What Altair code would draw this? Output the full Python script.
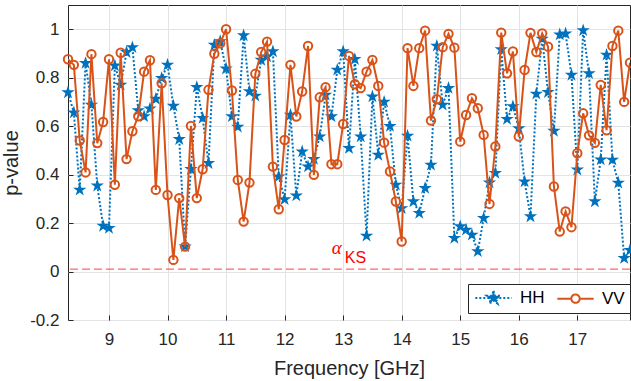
import altair as alt
import pandas as pd
import math

# ---------------- data ----------------
freq = [8.3, 8.4, 8.5, 8.6, 8.7, 8.8, 8.9, 9.0, 9.1, 9.2,
        9.3, 9.4, 9.5, 9.6, 9.7, 9.8, 9.9, 10.0, 10.1, 10.2,
        10.3, 10.4, 10.5, 10.6, 10.7, 10.8, 10.9, 11.0, 11.1, 11.2,
        11.3, 11.4, 11.5, 11.6, 11.7, 11.8, 11.9, 12.0, 12.1, 12.2,
        12.3, 12.4, 12.5, 12.6, 12.7, 12.8, 12.9, 13.0, 13.1, 13.2,
        13.3, 13.4, 13.5, 13.6, 13.7, 13.8, 13.9, 14.0, 14.1, 14.2,
        14.3, 14.4, 14.5, 14.6, 14.7, 14.8, 14.9, 15.0, 15.1, 15.2,
        15.3, 15.4, 15.5, 15.6, 15.7, 15.8, 15.9, 16.0, 16.1, 16.2,
        16.3, 16.4, 16.5, 16.6, 16.7, 16.8, 16.9, 17.0, 17.1, 17.2,
        17.3, 17.4, 17.5, 17.6, 17.7, 17.8, 17.9]

hh = [0.739, 0.656, 0.337, 0.860, 0.688, 0.354, 0.188, 0.179, 0.850, 0.770,
      0.905, 0.925, 0.665, 0.640, 0.672, 0.712, 0.798, 0.853, 0.684, 0.546,
      0.103, 0.422, 0.761, 0.633, 0.447, 0.935, 0.950, 0.837, 0.640, 0.597,
      0.974, 0.743, 0.725, 0.873, 0.887, 0.908, 0.392, 0.298, 0.646, 0.313,
      0.495, 0.433, 0.464, 0.557, 0.729, 0.640, 0.832, 0.908, 0.509, 0.876,
      0.557, 0.147, 0.722, 0.481, 0.700, 0.600, 0.358, 0.261, 0.560, 0.289,
      0.241, 0.344, 0.440, 0.931, 0.688, 0.757, 0.138, 0.186, 0.172, 0.151,
      0.083, 0.220, 0.367, 0.406, 0.917, 0.629, 0.681, 0.591, 0.371, 0.227,
      0.733, 0.960, 0.740, 0.580, 0.978, 0.982, 0.811, 0.420, 0.995, 0.818,
      0.289, 0.462, 0.894, 0.461, 0.366, 0.055, 0.088]

vv = [0.876, 0.853, 0.541, 0.409, 0.897, 0.530, 0.617, 0.876, 0.358, 0.903,
      0.464, 0.579, 0.641, 0.825, 0.872, 0.337, 0.777, 0.316, 0.048, 0.303,
      0.103, 0.601, 0.303, 0.422, 0.750, 0.899, 0.942, 1.000, 0.747, 0.378,
      0.206, 0.367, 0.816, 0.906, 0.949, 0.433, 0.257, 0.543, 0.853, 0.640,
      0.743, 0.931, 0.399, 0.719, 0.761, 0.443, 0.443, 0.609, 0.890, 0.773,
      0.757, 0.825, 0.873, 0.766, 0.532, 0.413, 0.289, 0.124, 0.922, 0.766,
      0.922, 0.994, 0.623, 0.711, 0.926, 0.981, 0.924, 0.536, 0.646, 0.715,
      0.674, 0.564, 0.279, 0.516, 0.986, 0.818, 0.908, 0.557, 0.832, 0.985,
      0.906, 0.983, 0.928, 0.351, 0.165, 0.248, 0.183, 0.488, 0.653, 0.562,
      0.531, 0.770, 0.583, 0.931, 0.994, 0.700, 0.862]

alpha_ks = [0.01]
series = ["HH", "VV"]
x_ticks = [9, 10, 11, 12, 13, 14, 15, 16, 17]
y_ticks = [-0.2, 0, 0.2, 0.4, 0.6, 0.8, 1.0]
x_domain = [8.3, 17.9]
y_domain = [-0.2, 1.1]

# annotation (alpha_KS) anchors in data units
ann_alpha = {"f": [12.89], "p": [0.098], "t": ["α"]}
ann_ks = {"f": [13.21], "p": [0.057], "t": ["KS"]}

# ---------------- styling ----------------
BLUE = "#0072BD"
ORANGE = "#D95319"
FONT = "Liberation Sans"
AX = "#262626"


def star_path(ro=1.0, ri=0.382):
    pts = []
    for k in range(10):
        a = math.radians(-90 + 36 * k)
        r = ro if k % 2 == 0 else ri
        pts.append(f"{r*math.cos(a):.4f},{r*math.sin(a):.4f}")
    return "M" + "L".join(pts) + "Z"


def circle_path(r=0.6):
    return f"M{r},0A{r},{r} 0 1,1 {-r},0A{r},{r} 0 1,1 {r},0Z"


STAR = star_path()
CIRC = circle_path()
LEG_HH = "M-2.6,0L2.6,0" + STAR
LEG_VV = "M-2.6,0L-0.6,0M0.6,0L2.6,0" + CIRC

df_hh = pd.DataFrame({"f": freq, "p": hh})
df_vv = pd.DataFrame({"f": freq, "p": vv})

X = alt.X("f:Q", scale=alt.Scale(domain=x_domain, nice=False, zero=False),
          axis=alt.Axis(values=x_ticks, title="Frequency [GHz]", format="d",
                        offset=-5, tickSize=5, labelPadding=11, titlePadding=11))
Y = alt.Y("p:Q", scale=alt.Scale(domain=y_domain, nice=False, zero=False),
          axis=alt.Axis(values=y_ticks, title="p-value",
                        labelExpr="toString(round(datum.value*10)/10)",
                        offset=-5, tickSize=5, labelPadding=9, titlePadding=8))

hh_line = alt.Chart(df_hh).mark_line(color=BLUE, strokeWidth=2, strokeDash=[2, 2], clip=True).encode(x=X, y=Y)
hh_pts = alt.Chart(df_hh).mark_point(shape=STAR, size=196, filled=True, color=BLUE,
                                     opacity=1, strokeWidth=1).encode(x=X, y=Y)
vv_line = alt.Chart(df_vv).mark_line(color=ORANGE, strokeWidth=2, clip=True).encode(x=X, y=Y)
vv_pts = alt.Chart(df_vv).mark_point(shape=CIRC, size=196, filled=False, color=ORANGE,
                                     opacity=1, strokeWidth=2).encode(x=X, y=Y)

ks_rule = alt.Chart(pd.DataFrame({"p": alpha_ks})).mark_rule(
    color="#ff0000", opacity=0.6, strokeWidth=1.2, strokeDash=[8, 4]).encode(y=Y)

txt_alpha = alt.Chart(pd.DataFrame(ann_alpha)).mark_text(
    font="Liberation Serif", fontStyle="italic", fontSize=19, color="#ff0000",
    align="center", baseline="middle").encode(x=X, y=Y, text="t:N")
txt_ks = alt.Chart(pd.DataFrame(ann_ks)).mark_text(
    font=FONT, fontSize=16, color="#ff0000",
    align="center", baseline="middle").encode(x=X, y=Y, text="t:N")

leg = alt.Legend(orient="none", legendX=400, legendY=279, direction="horizontal",
                 title=None, strokeColor=AX, fillColor="white", padding=5,
                 symbolOffset=12, labelOffset=18, columnPadding=8,
                 labelFont=FONT, labelFontSize=17, labelColor="black",
                 symbolStrokeWidth=2, symbolSize=196, cornerRadius=0)

df_leg = pd.DataFrame({"s": series})
legend_layer = alt.Chart(df_leg).mark_point(size=196, filled=True, opacity=1, strokeWidth=2, clip=True).encode(
    x=alt.value(-60), y=alt.value(-60),
    shape=alt.Shape("s:N", scale=alt.Scale(domain=series, range=[LEG_HH, LEG_VV]), legend=leg),
    stroke=alt.Stroke("s:N", scale=alt.Scale(domain=series, range=[BLUE, ORANGE]), legend=leg),
    fill=alt.Fill("s:N", scale=alt.Scale(domain=series, range=[BLUE, "transparent"]), legend=leg),
    strokeDash=alt.StrokeDash("s:N", scale=alt.Scale(domain=series, range=[[2, 2], [1, 0]]), legend=leg),
)

chart = alt.layer(ks_rule, hh_line, hh_pts, vv_line, vv_pts, txt_alpha, txt_ks, legend_layer).properties(
    width=562, height=315,
    padding={"left": 68, "top": 5, "right": 1, "bottom": 61},
    autosize=alt.AutoSizeParams(type="none"),
).configure_view(stroke=AX, strokeWidth=1).configure_axis(
    grid=True, gridColor="#e3e3e3", gridWidth=1, domain=False,
    tickColor=AX, labelColor=AX, titleColor=AX,
    labelFont=FONT, titleFont=FONT, labelFontSize=17, titleFontSize=20,
    titleFontWeight="normal",
)

chart.save("out.html", embed_options={"renderer": "svg", "actions": False})
